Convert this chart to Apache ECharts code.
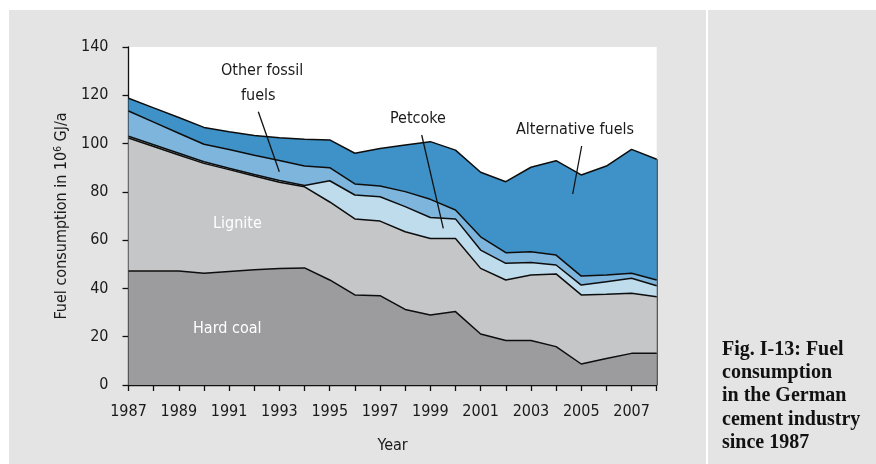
<!DOCTYPE html>
<html>
<head>
<meta charset="utf-8">
<script src="https://cdn.jsdelivr.net/npm/echarts@6/dist/echarts.min.js"></script>
<style>
  html, body { margin: 0; padding: 0; background: #ffffff; }
  #wrap { position: relative; width: 876px; height: 464px; overflow: hidden; }
  .panel { position: absolute; background: #e3e4e3; }
  #chart { position: absolute; left: 0; top: 0; width: 876px; height: 464px; }
</style>
</head>
<body>
<div id="wrap">
  <div class="panel" style="left:9px; top:10px; width:697px; height:454px;"></div>
  <div class="panel" style="left:708px; top:10px; width:168px; height:454px;"></div>
  <div id="chart"></div>
</div>
<script>
// ---- data (10^6 GJ/a) ----
const years = ['1987','1988','1989','1990','1991','1992','1993','1994','1995','1996','1997',
               '1998','1999','2000','2001','2002','2003','2004','2005','2006','2007','2008'];
const hardCoal    = [47.2,47.2,47.2,46.3,47.0,47.7,48.3,48.5,43.5,37.3,37.0,31.3,29.0,30.4,21.1,18.4,18.4,15.9, 8.7,11.0,13.1,13.1];
const lignite     = [55.1,51.6,48.1,45.5,42.2,38.9,35.7,33.6,32.3,31.5,30.9,32.2,31.7,30.3,27.2,25.1,27.2,30.1,28.6,26.6,24.9,23.5];
const petcoke     = [ 0.7, 0.7, 0.7, 0.7, 0.6, 0.6, 0.7, 0.5, 8.8, 9.9,10.1,10.4, 8.7, 8.1, 7.6, 6.9, 5.1, 3.7, 4.1, 5.2, 6.2, 4.5];
const otherFossil = [10.5, 9.4, 8.3, 7.2, 7.7, 8.0, 8.3, 8.1, 5.4, 4.6, 4.4, 6.2, 7.5, 3.7, 5.5, 4.4, 4.5, 4.1, 3.7, 2.8, 2.1, 2.4];
const alternative = [ 5.3, 5.9, 6.5, 7.0, 7.4, 8.1, 9.4,11.1,11.5,12.7,15.6,19.3,23.9,24.8,26.7,29.4,35.0,39.1,41.9,45.1,51.3,50.0];
const yTicks = { min: 0, max: 140, interval: 20 };
const seriesNames = ['Hard coal','Lignite','Petcoke','Other fossil fuels','Alternative fuels'];
const caption = ['Fig. I-13: Fuel','consumption','in the German','cement industry','since 1987'];

const colors = ['#9c9c9e','#c5c6c8','#bfdcec','#7eb5dc','#3e92c8'];
const font = "'Liberation Sans Narrow','DejaVu Sans Condensed','Liberation Sans',sans-serif";
const allSeries = [hardCoal, lignite, petcoke, otherFossil, alternative];

const lastIdx = years.length - 1;
const lastTotal = allSeries.reduce((s, a) => s + a[lastIdx], 0);

const chart = echarts.init(document.getElementById('chart'), null, { renderer: 'canvas' });

const series = allSeries.map((d, i) => {
  const s = {
    name: seriesNames[i],
    type: 'line',
    stack: 'fuel',
    data: d,
    symbol: 'none',
    smooth: false,
    lineStyle: { color: '#0d0d0d', width: 1.5 },
    areaStyle: { color: colors[i], opacity: 1 },
    z: 10 - i,
    silent: true
  };
  if (i === allSeries.length - 1) {
    s.markLine = {
      silent: true, symbol: 'none', label: { show: false },
      lineStyle: { color: '#333', width: 1.6, type: 'solid' },
      data: [[{ coord: [years[lastIdx], 0] }, { coord: [years[lastIdx], lastTotal] }]]
    };
  }
  return s;
});

chart.setOption({
  backgroundColor: 'transparent',
  animation: false,
  grid: { left: 128.5, right: 219.3, top: 47, bottom: 79, show: true, backgroundColor: '#ffffff', borderWidth: 0 },
  xAxis: {
    type: 'category',
    data: years,
    boundaryGap: false,
    name: 'Year',
    nameLocation: 'middle',
    nameGap: 53,
    nameTextStyle: { fontFamily: font, fontSize: 16, color: '#1a1a1a' },
    axisLine: { lineStyle: { color: '#111', width: 1.3 } },
    axisTick: { show: true, interval: 0, length: 6, lineStyle: { color: '#111', width: 1.3 } },
    axisLabel: { interval: 1, margin: 19, fontFamily: font, fontSize: 16, color: '#1a1a1a' },
    splitLine: { show: false }
  },
  yAxis: {
    type: 'value',
    min: yTicks.min, max: yTicks.max, interval: yTicks.interval,
    name: '{a|Fuel consumption in 10}{s|6}{a| GJ/a}',
    nameLocation: 'middle',
    nameGap: 58,
    nameRotate: 90,
    nameTextStyle: {
      rich: {
        a: { fontFamily: font, fontSize: 16, color: '#1a1a1a' },
        s: { fontFamily: font, fontSize: 10, color: '#1a1a1a', padding: [0, 0, 7, 0] }
      }
    },
    axisLine: { show: true, lineStyle: { color: '#111', width: 1.3 } },
    axisTick: { show: true, length: 6, lineStyle: { color: '#111', width: 1.3 } },
    axisLabel: { margin: 20, fontFamily: font, fontSize: 16, color: '#1a1a1a' },
    splitLine: { show: false }
  },
  series: series,
  graphic: [
    { type: 'text', left: 221, top: 63, z: 100, style: { text: 'Other fossil', fill: '#1a1a1a', font: "16px " + font } },
    { type: 'text', left: 241, top: 88, z: 100, style: { text: 'fuels', fill: '#1a1a1a', font: "16px " + font } },
    { type: 'line', z: 100, shape: { x1: 258.3, y1: 111.7, x2: 279.3, y2: 171.7 }, style: { stroke: '#111', lineWidth: 1.3 } },
    { type: 'text', left: 390, top: 111, z: 100, style: { text: 'Petcoke', fill: '#1a1a1a', font: "16px " + font } },
    { type: 'line', z: 100, shape: { x1: 421.7, y1: 135, x2: 443.3, y2: 228.3 }, style: { stroke: '#111', lineWidth: 1.3 } },
    { type: 'text', left: 516, top: 122, z: 100, style: { text: 'Alternative fuels', fill: '#1a1a1a', font: "16px " + font } },
    { type: 'line', z: 100, shape: { x1: 581.7, y1: 146, x2: 572.7, y2: 194 }, style: { stroke: '#111', lineWidth: 1.3 } },
    { type: 'text', left: 213, top: 216, z: 100, style: { text: 'Lignite', fill: '#ffffff', font: "16px " + font } },
    { type: 'text', left: 193, top: 321, z: 100, style: { text: 'Hard coal', fill: '#ffffff', font: "16px " + font } },
    { type: 'text', left: 722, top: 338, z: 100, style: { text: caption.join('\n'), fill: '#111111',
      font: "bold 20px 'Liberation Serif','Times New Roman',serif", lineHeight: 23.3 } }
  ]
});
</script>
</body>
</html>
